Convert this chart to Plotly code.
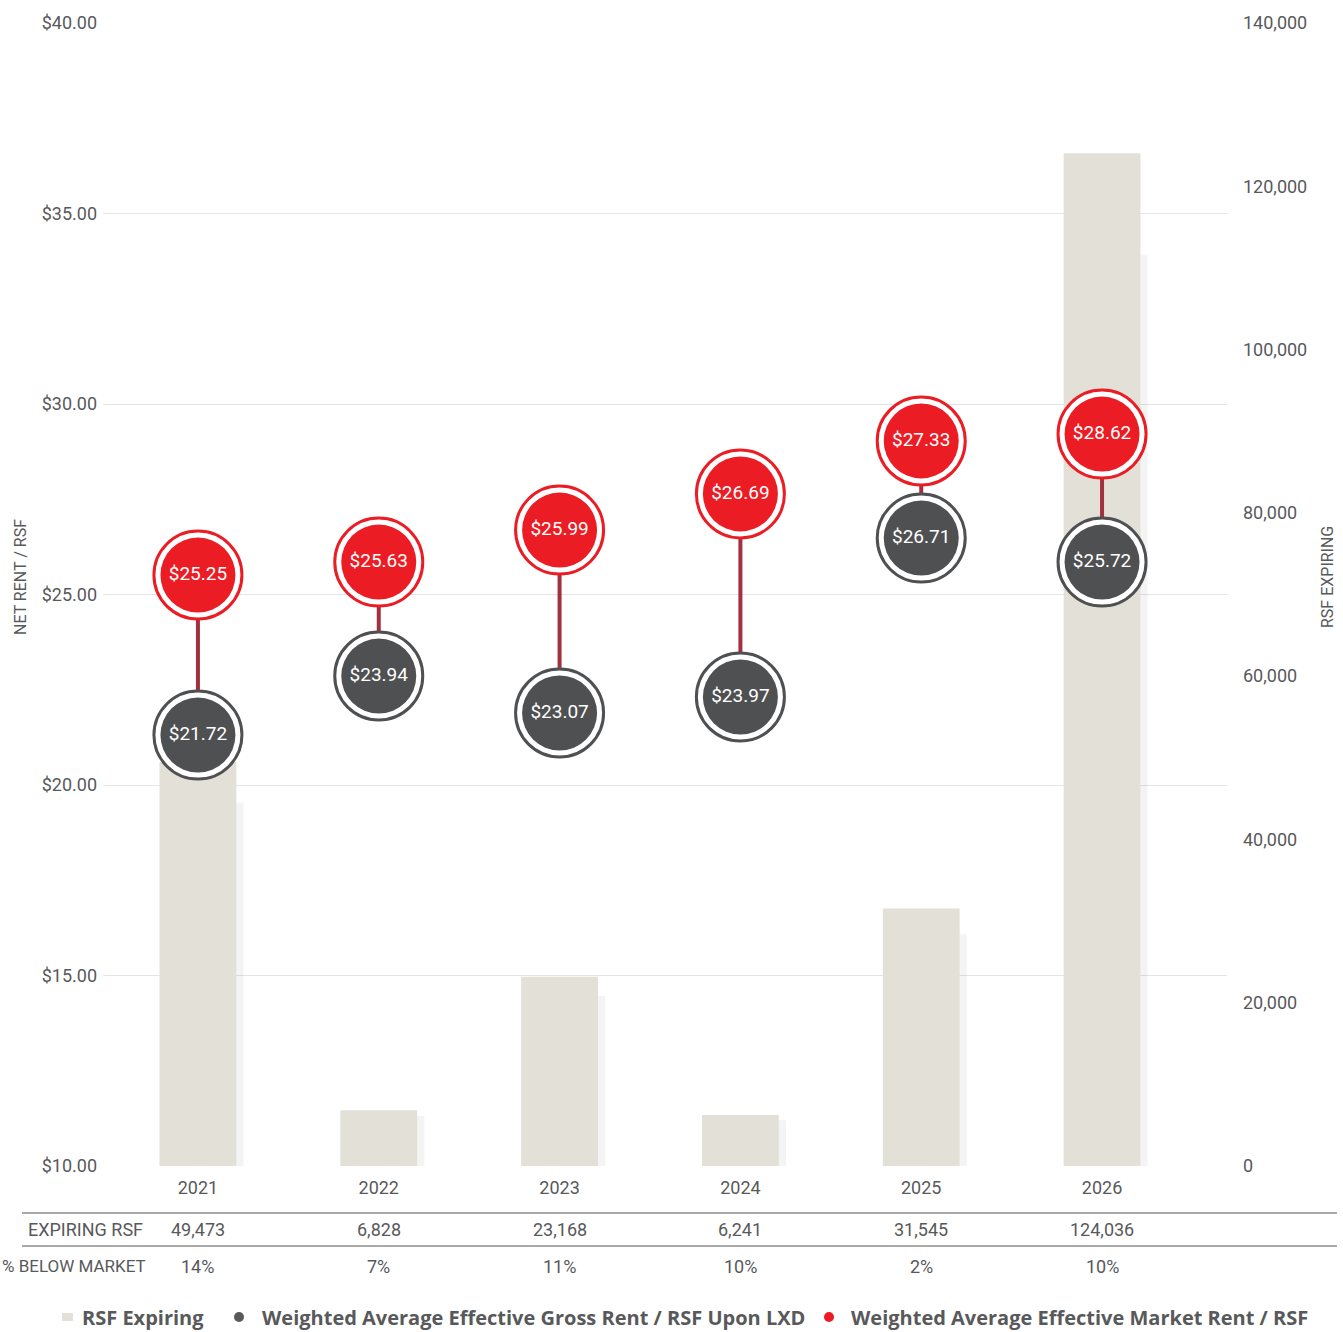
import plotly.graph_objects as go

# ---- data ----
years = ["2021", "2022", "2023", "2024", "2025", "2026"]
rsf_expiring = [49473, 6828, 23168, 6241, 31545, 124036]
pct_below_market = [14, 7, 11, 10, 2, 10]
# labelled rent values
market_rent = [25.25, 25.63, 25.99, 26.69, 27.33, 28.62]
gross_rent = [21.72, 23.94, 23.07, 23.97, 26.71, 25.72]
# positions of the bubbles as drawn against the NET RENT / RSF axis
market_rent_drawn = [25.51, 25.85, 26.69, 27.64, 29.03, 29.21]
gross_rent_drawn = [21.31, 22.86, 21.89, 22.31, 26.48, 25.85]

rsf_ticks = [0, 20000, 40000, 60000, 80000, 100000, 120000, 140000]
rent_ticks = [10, 15, 20, 25, 30, 35, 40]

legend_names = ["RSF Expiring",
                "Weighted Average Effective Gross Rent / RSF Upon LXD",
                "Weighted Average Effective Market Rent / RSF"]

RED = "#ec1c24"
GREY = "#58595b"
BAR = "#e3e0d8"
TXT = "#58595b"
NARROW = "Roboto, Liberation Sans, sans-serif"
LEG = "Open Sans, sans-serif"

xs = list(range(len(years)))

fig = go.Figure()

# bars (primary axis = RSF, on the right)
fig.add_trace(go.Bar(
    x=xs, y=rsf_expiring, name=legend_names[0], yaxis="y",
    width=0.425, marker=dict(color=BAR, line=dict(width=0)),
    hoverinfo="skip", showlegend=False,
))
# soft shadow on bar right side
fig.add_trace(go.Bar(
    x=xs, y=[v * 0.9 for v in rsf_expiring], yaxis="y",
    width=0.04, offset=0.2125,
    marker=dict(color="rgba(0,0,0,0.045)", line=dict(width=0)),
    showlegend=False, hoverinfo="skip",
))

# connectors
cx, cy = [], []
for i in xs:
    cx += [i, i, None]
    cy += [market_rent_drawn[i], gross_rent_drawn[i], None]
fig.add_trace(go.Scatter(
    x=cx, y=cy, yaxis="y2", mode="lines",
    line=dict(color="#a3303f", width=4), showlegend=False, hoverinfo="skip",
))

def bubbles(vals, labels, color, name):
    fig.add_trace(go.Scatter(
        x=xs, y=vals, yaxis="y2", mode="markers", name=name,
        marker=dict(size=88, color="white", line=dict(color=color, width=3)),
        showlegend=False, hoverinfo="skip",
    ))
    fig.add_trace(go.Scatter(
        x=xs, y=vals, yaxis="y2", mode="markers+text", name=name,
        marker=dict(size=75, color=color, line=dict(width=0)),
        text=[f"${v:.2f}" for v in labels], textposition="middle center",
        textfont=dict(family=NARROW, size=19, color="white"),
        showlegend=False, hoverinfo="skip",
    ))

bubbles(gross_rent_drawn, gross_rent, "#4f5052", legend_names[1])
bubbles(market_rent_drawn, market_rent, RED, legend_names[2])

fig.update_layout(
    width=1343, height=1332,
    margin=dict(l=103, r=116, t=23, b=166, autoexpand=False),
    paper_bgcolor="white", plot_bgcolor="white",
    barmode="overlay", showlegend=False,
    font=dict(family=NARROW, color=TXT, size=18),
    xaxis=dict(
        range=[-0.525, 5.691], tickmode="array", tickvals=xs, ticktext=years,
        showgrid=False, zeroline=False, showline=False, ticks="",
        ticklabelstandoff=9, automargin=False,
        tickfont=dict(family=NARROW, size=18, color=TXT),
    ),
    yaxis=dict(
        range=[0, 140000], side="right", tickmode="array", tickvals=rsf_ticks,
        ticktext=[f"{v:,}" for v in rsf_ticks], automargin=False,
        showgrid=False, zeroline=False, showline=False, ticks="",
        ticklabelstandoff=15, tickfont=dict(family=NARROW, size=18, color=TXT),
    ),
    yaxis2=dict(
        range=[10, 40], overlaying="y", side="left", tickmode="array",
        tickvals=rent_ticks, ticktext=[f"${v:.2f}" for v in rent_ticks],
        showgrid=True, gridcolor="#e4e4e4", gridwidth=1, automargin=False,
        zeroline=False, showline=False, ticks="",
        ticklabelstandoff=5, tickfont=dict(family=NARROW, size=18, color=TXT),
    ),
)

def px_x(px):
    return (px - 103) / 1124.0

def px_y(py):
    return (1166 - py) / 1143.0

# axis titles
fig.add_annotation(text="NET RENT / RSF", xref="paper", yref="paper",
                   x=px_x(20), y=px_y(577), textangle=-90, showarrow=False,
                   xanchor="center", yanchor="middle",
                   font=dict(family=NARROW, size=16, color=TXT))
fig.add_annotation(text="RSF EXPIRING", xref="paper", yref="paper",
                   x=px_x(1327), y=px_y(577), textangle=-90, showarrow=False,
                   xanchor="center", yanchor="middle",
                   font=dict(family=NARROW, size=16, color=TXT))

# table rules
for py in [1213, 1246]:
    fig.add_shape(type="line", xref="paper", yref="paper",
                  x0=px_x(22), x1=px_x(1337), y0=px_y(py), y1=px_y(py),
                  line=dict(color="#8c8c8c", width=1.5))

# table rows
fig.add_annotation(text="EXPIRING RSF", xref="paper", yref="paper",
                   x=px_x(145), y=px_y(1229), xanchor="right", yanchor="middle",
                   showarrow=False, font=dict(family=NARROW, size=18, color=TXT))
fig.add_annotation(text="% BELOW MARKET", xref="paper", yref="paper",
                   x=px_x(148), y=px_y(1266), xanchor="right", yanchor="middle",
                   showarrow=False, font=dict(family=NARROW, size=17, color=TXT))
for i in xs:
    fig.add_annotation(text=f"{rsf_expiring[i]:,}", x=i, xref="x", yref="paper",
                       y=px_y(1229), xanchor="center", yanchor="middle",
                       showarrow=False, font=dict(family=NARROW, size=18, color=TXT))
    fig.add_annotation(text=f"{pct_below_market[i]}%", x=i, xref="x", yref="paper",
                       y=px_y(1266), xanchor="center", yanchor="middle",
                       showarrow=False, font=dict(family=NARROW, size=18, color=TXT))

# legend (drawn manually, single row as in the reference)
ly = px_y(1317)
fig.add_shape(type="rect", xref="paper", yref="paper",
              x0=px_x(62), x1=px_x(73), y0=px_y(1321), y1=px_y(1313),
              fillcolor=BAR, line=dict(width=0))
for cxp, col in [(239, GREY), (829, RED)]:
    fig.add_shape(type="circle", xref="paper", yref="paper",
                  x0=px_x(cxp - 5), x1=px_x(cxp + 5), y0=px_y(1322), y1=px_y(1312),
                  fillcolor=col, line=dict(width=0))
for tx, name in zip([80, 260, 849], legend_names):
    fig.add_annotation(text=name, xref="paper", yref="paper", x=px_x(tx), y=ly,
                       xanchor="left", yanchor="middle", showarrow=False,
                       font=dict(family=LEG, size=20, color=TXT, weight=700))

fig.write_html("out.html")
